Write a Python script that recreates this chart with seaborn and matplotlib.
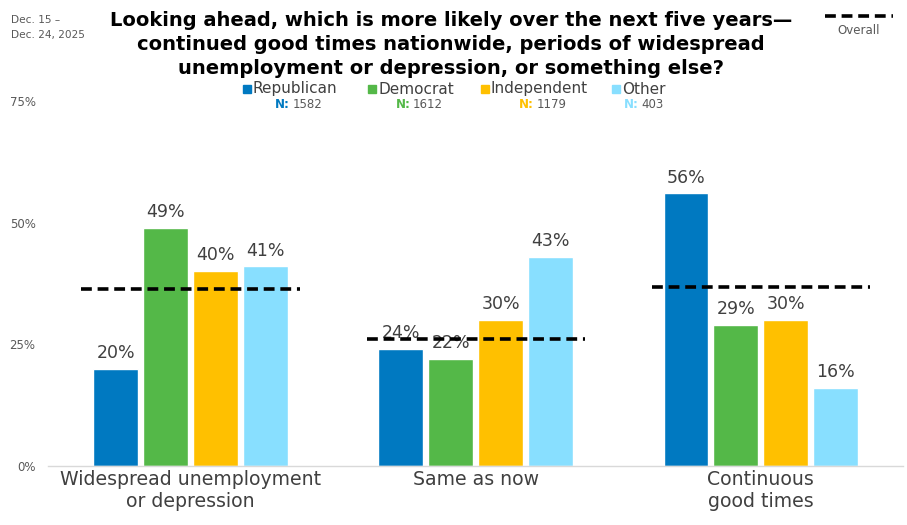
import matplotlib
matplotlib.use("Agg")
from matplotlib import pyplot as plt
from matplotlib.patches import Rectangle
import numpy as np
import pandas as pd
import seaborn as sns

categories = ["Widespread unemployment\nor depression", "Same as now", "Continuous\ngood times"]
parties = ["Republican", "Democrat", "Independent", "Other"]
party_n = [1582, 1612, 1179, 403]
party_colors = ["#0079C1", "#54B848", "#FFC000", "#88DFFF"]

republican = [20, 24, 56]
democrat = [49, 22, 29]
independent = [40, 30, 30]
other = [41, 43, 16]
overall = [36.3, 26.0, 36.7]

y_ticks = [0, 25, 50, 75]
y_tick_labels = ["0%", "25%", "50%", "75%"]

title = ("Looking ahead, which is more likely over the next five years\u2014\n"
         "continued good times nationwide, periods of widespread\n"
         "unemployment or depression, or something else?")
date_text = "Dec. 15 \u2013\nDec. 24, 2025"

rows = []
for party, vals in zip(parties, [republican, democrat, independent, other]):
    for cat, v in zip(categories, vals):
        rows.append({"category": cat, "party": party, "value": v})
df = pd.DataFrame(rows)

sns.set_theme(style="white")
plt.rcParams["font.family"] = ["DejaVu Sans"]

text_gray = "#404040"
tick_gray = "#595959"
W, H = 907, 525

fig = plt.figure(figsize=(9.07, 5.25), dpi=100)
ax = fig.add_axes([0.053, 0.1124, 0.943, 0.6952])

sns.barplot(data=df, x="category", y="value", hue="party", order=categories,
            hue_order=parties, palette=party_colors, width=0.7, gap=0.1,
            saturation=1, legend=False, ax=ax)

for cont in ax.containers:
    ax.bar_label(cont, fmt="%d%%", padding=5, fontsize=12.5, color=text_gray)

# overall dashed reference lines
for i, v in enumerate(overall):
    ax.hlines(v, i - 0.383, i + 0.383, colors="black", linestyles=(0, (3, 1.6)), linewidth=2.6, zorder=5)

ax.set_xlim(-0.5, 2.5)
ax.set_ylim(0, 75)
ax.set_yticks(y_ticks)
ax.set_yticklabels(y_tick_labels, fontsize=8.5, color=tick_gray)
ax.tick_params(axis="x", labelsize=13.6, colors=text_gray, length=0, pad=3)
ax.tick_params(axis="y", length=0, pad=9)
ax.set_xlabel("")
ax.set_ylabel("")
for s in ["top", "right", "left"]:
    ax.spines[s].set_visible(False)
ax.spines["bottom"].set_color("#d9d9d9")
ax.spines["bottom"].set_linewidth(1)

# title and date
for k, line in enumerate(title.split("\n")):
    fig.text(0.497, 1 - (20 + 24 * k) / H, line, ha="center", va="center", fontsize=14,
             fontweight="bold", color="black")
fig.text(11 / W, 1 - 20 / H, date_text.split("\n")[0], ha="left", va="center", fontsize=7.6, color=tick_gray)
fig.text(11 / W, 1 - 35 / H, date_text.split("\n")[1], ha="left", va="center", fontsize=7.6, color=tick_gray)

# party legend
sq_x = [243, 368, 481, 612]
name_texts = []
for x, name, c in zip(sq_x, parties, party_colors):
    fig.add_artist(Rectangle((x / W, 1 - 93 / H), 8 / W, 8 / H, color=c, transform=fig.transFigure))
    name_texts.append(fig.text((x + 10) / W, 1 - 89 / H, name, ha="left", va="center",
                               fontsize=11, color=text_gray))

fig.canvas.draw()
renderer = fig.canvas.get_renderer()
for t, n, c in zip(name_texts, party_n, party_colors):
    bb = t.get_window_extent(renderer)
    cx = (bb.x0 + bb.x1) / 2 / fig.bbox.width - 0.006
    fig.text(cx, 1 - 104 / H, "N:", ha="right", va="center", fontsize=8.5, color=c, fontweight="bold")
    fig.text(cx + 0.003, 1 - 104 / H, str(n), ha="left", va="center", fontsize=8.5, color=tick_gray)

# overall legend
fig.add_artist(plt.Line2D([825 / W, 893 / W], [1 - 16 / H, 1 - 16 / H], color="black",
                          linestyle=(0, (3, 1.6)), linewidth=2.6))
fig.text(859 / W, 1 - 31 / H, "Overall", ha="center", va="center", fontsize=8.5, color=tick_gray)

fig.savefig("out.png", dpi=100)
